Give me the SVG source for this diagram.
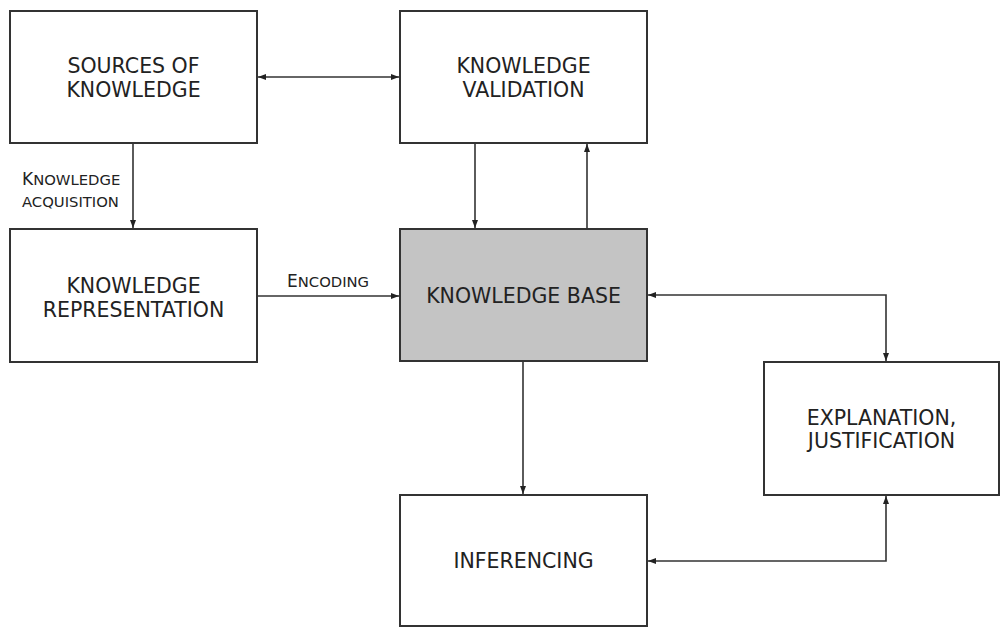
<svg xmlns="http://www.w3.org/2000/svg" width="1000" height="627" viewBox="0 0 1000 627">
<defs>
<marker id="ah" markerWidth="8" markerHeight="6" refX="8" refY="3" orient="auto-start-reverse" markerUnits="userSpaceOnUse">
<path d="M0,0 L8,3 L0,6 z" fill="#222"/>
</marker>
<style>
.box{fill:#fff;stroke:#333;stroke-width:2}
.kb{fill:#c4c4c4}
.t{font-family:"DejaVu Sans",Verdana,sans-serif;font-size:20.5px;fill:#222;text-anchor:middle}
.sl{font-family:"DejaVu Sans",Verdana,sans-serif;font-size:14.8px;fill:#222}
.bg{font-size:17px}
.c{fill:none;stroke:#333;stroke-width:1.6}
</style>
</defs>
<rect width="1000" height="627" fill="#fff"/>
<g id="sources">
<rect class="box" x="10" y="11" width="247" height="132"/>
<text class="t" x="133.5" y="73">SOURCES OF</text>
<text class="t" x="133.5" y="97">KNOWLEDGE</text>
</g>
<g id="validation">
<rect class="box" x="400" y="11" width="247" height="132"/>
<text class="t" x="523.5" y="73">KNOWLEDGE</text>
<text class="t" x="523.5" y="97">VALIDATION</text>
</g>
<g id="representation">
<rect class="box" x="10" y="229" width="247" height="133"/>
<text class="t" x="133.5" y="293">KNOWLEDGE</text>
<text class="t" x="133.5" y="317">REPRESENTATION</text>
</g>
<g id="knowledge-base">
<rect class="box kb" x="400" y="229" width="247" height="132"/>
<text class="t" x="523.5" y="303">KNOWLEDGE BASE</text>
</g>
<g id="explanation">
<rect class="box" x="764" y="362" width="235" height="133"/>
<text class="t" x="881.5" y="425">EXPLANATION,</text>
<text class="t" x="881.5" y="448">JUSTIFICATION</text>
</g>
<g id="inferencing">
<rect class="box" x="400" y="495" width="247" height="131"/>
<text class="t" x="523.5" y="568">INFERENCING</text>
</g>
<g id="connectors">
<path class="c" d="M258,77 H399" marker-start="url(#ah)" marker-end="url(#ah)"/>
<path class="c" d="M133,144 V228" marker-end="url(#ah)"/>
<path class="c" d="M475,144 V228" marker-end="url(#ah)"/>
<path class="c" d="M587,229 V144" marker-end="url(#ah)"/>
<path class="c" d="M258,296 H399" marker-end="url(#ah)"/>
<path class="c" d="M648,295 H886 V361" marker-start="url(#ah)" marker-end="url(#ah)"/>
<path class="c" d="M523,362 V494" marker-end="url(#ah)"/>
<path class="c" d="M886,496 V561 H648" marker-start="url(#ah)" marker-end="url(#ah)"/>
<text class="sl" x="22" y="185"><tspan class="bg">K</tspan>NOWLEDGE</text>
<text class="sl" x="22" y="206.5">ACQUISITION</text>
<text class="sl" x="287" y="287"><tspan class="bg">E</tspan>NCODING</text>
</g>
</svg>
